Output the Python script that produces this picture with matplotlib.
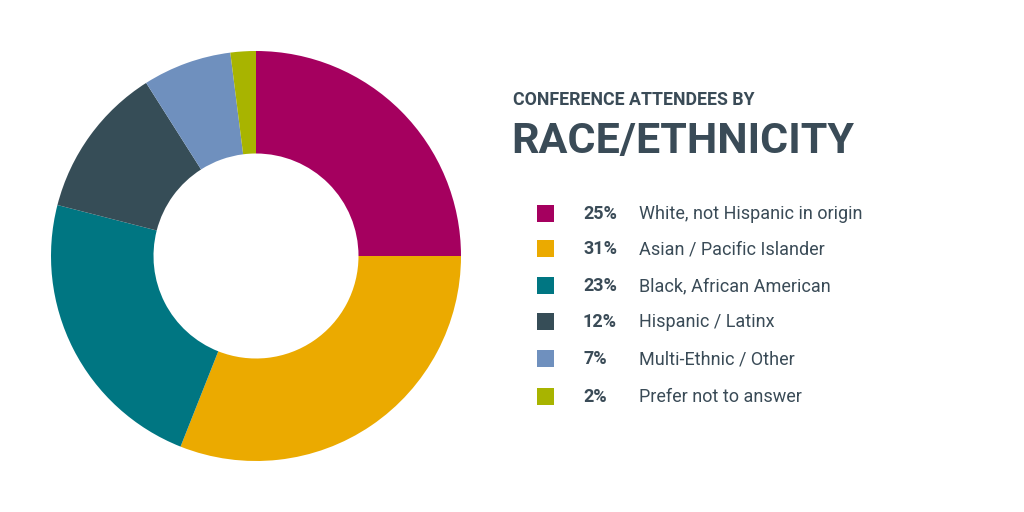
import matplotlib
matplotlib.use("Agg")
import matplotlib.pyplot as plt
from matplotlib.patches import Rectangle

categories = ["White, not Hispanic in origin", "Asian / Pacific Islander",
              "Black, African American", "Hispanic / Latinx",
              "Multi-Ethnic / Other", "Prefer not to answer"]
values = [25, 31, 23, 12, 7, 2]
colors = ["#A5005F", "#EBAA00", "#007682", "#364D57", "#6F90BE", "#A8B400"]
title_small = "CONFERENCE ATTENDEES BY"
title_big = "RACE/ETHNICITY"

FAM = ["Roboto", "DejaVu Sans"]
TXT = "#3A4B57"

W, H = 1024, 512
fig = plt.figure(figsize=(W / 100, H / 100), dpi=100)
fig.patch.set_facecolor("white")

def fx(x):
    return x / W

def fy(y):
    return 1 - y / H

cx, cy, r = 256, 256, 205
ax = fig.add_axes([fx(cx - r), fy(cy + r), 2 * r / W, 2 * r / H])
ax.pie(values, colors=colors, startangle=90, counterclock=False,
       radius=1, wedgeprops=dict(width=0.5, edgecolor="none"))
ax.set_xlim(-1, 1)
ax.set_ylim(-1, 1)
ax.set_aspect("equal")
ax.axis("off")

fig.text(fx(513), fy(100), title_small, family=FAM, fontweight="bold",
         fontsize=12.8, color=TXT, va="center", ha="left")
fig.text(fx(511), fy(142), title_big, family=FAM, fontweight="bold",
         fontsize=31, color=TXT, va="center", ha="left")

ys = [214, 249, 286, 322, 359, 397]
for yy, cat, v, c in zip(ys, categories, values, colors):
    fig.patches.append(Rectangle((fx(537), fy(yy + 8)), 17 / W, 17 / H,
                                 transform=fig.transFigure, facecolor=c,
                                 edgecolor="none"))
    fig.text(fx(583), fy(yy), f"{v}%", family=FAM, fontweight="bold",
             fontsize=13, color=TXT, va="center", ha="left")
    fig.text(fx(639), fy(yy), cat, family=FAM, fontsize=13, color=TXT,
             va="center", ha="left")

fig.savefig("out.png", dpi=100)
